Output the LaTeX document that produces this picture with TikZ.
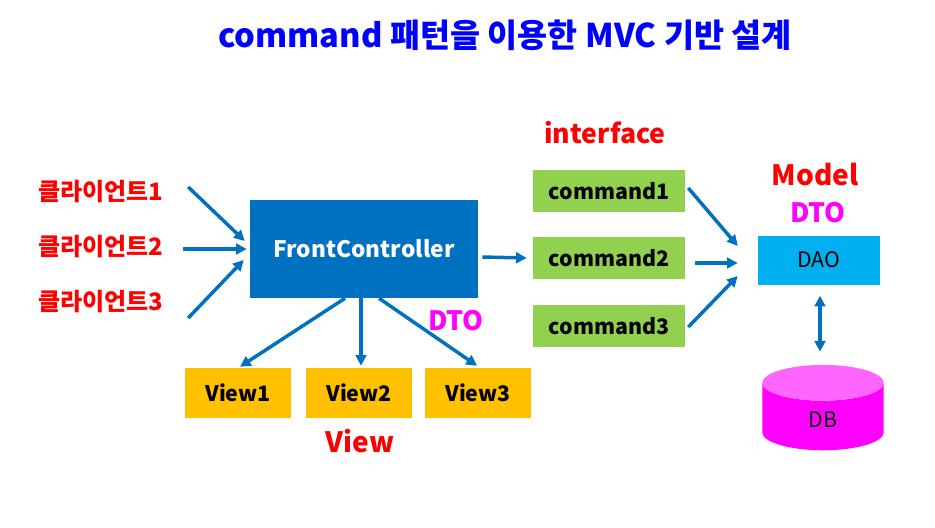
\documentclass[tikz,border=0pt]{standalone}
\usepackage{fontspec}
\setmainfont{Noto Sans CJK KR}
\usetikzlibrary{arrows.meta,shapes.geometric}
\definecolor{arrblue}{HTML}{0070C0}
\definecolor{cmdgreen}{HTML}{92D050}
\definecolor{vieworange}{HTML}{FFC000}
\definecolor{daocyan}{HTML}{00B0F0}
\definecolor{titleblue}{HTML}{0000FF}
\definecolor{lblred}{HTML}{FF0000}
\definecolor{dbmag}{HTML}{FF00FF}
\definecolor{dbtop}{HTML}{FF66FF}
\begin{document}
\begin{tikzpicture}[x=0.75pt,y=-0.75pt,font=\bfseries,
  arr/.style={draw=arrblue,line width=2.6pt,-{Triangle[length=8pt,width=8pt]}},
  client/.style={text=lblred,font=\bfseries\fontsize{18}{21}\selectfont},
  cmdbox/.style={fill=cmdgreen,minimum width=114pt,minimum height=31.5pt,
    font=\bfseries\fontsize{16}{19}\selectfont},
  viewbox/.style={fill=vieworange,minimum width=80pt,minimum height=37.5pt,
    font=\bfseries\fontsize{16}{19}\selectfont},
  tag/.style={font=\bfseries\fontsize{20}{24}\selectfont}]
\useasboundingbox (0,0) rectangle (935,528);

% title
\node[text=titleblue,font=\bfseries\fontsize{24.5}{29}\selectfont] (title) at (505,35) {command 패턴을 이용한 MVC 기반 설계};

% clients
\node[client] (c1) at (101,192) {클라이언트1};
\node[client] (c2) at (101,247) {클라이언트2};
\node[client] (c3) at (101,302) {클라이언트3};

% controller
\node[fill=arrblue,text=white,minimum width=171pt,minimum height=73.5pt,
  font=\bfseries\fontsize{17}{20}\selectfont] (fc) at (364,249) {FrontController};

% commands
\node[tag,text=lblred] (iface) at (605,133) {interface};
\node[cmdbox] (cmd1) at (609,191) {command1};
\node[cmdbox] (cmd2) at (609,258) {command2};
\node[cmdbox] (cmd3) at (609,326) {command3};

% model
\node[tag,text=lblred,font=\bfseries\fontsize{21}{25}\selectfont] (model) at (815,175) {Model};
\node[tag,text=dbmag] (dto2) at (818,213) {DTO};
\node[fill=daocyan,minimum width=91.5pt,minimum height=36.75pt,
  font=\fontsize{16}{19}\selectfont] (dao) at (819,260) {DAO};
\node[cylinder,shape border rotate=90,aspect=0.95,cylinder uses custom fill,
  cylinder body fill=dbmag,cylinder end fill=dbtop,minimum width=91pt,minimum height=64pt,
  font=\fontsize{16}{19}\selectfont] (db) at (823,420) {DB};

% views
\node[viewbox] (v1) at (238,393) {View1};
\node[viewbox] (v2) at (359,393) {View2};
\node[viewbox] (v3) at (478,393) {View3};
\node[tag,text=lblred,font=\bfseries\fontsize{21}{25}\selectfont] (view) at (360,441) {View};
\node[tag,text=dbmag] (dto1) at (456,321) {DTO};

% arrows
\draw[arr] ([shift={(20,-5)}]c1.east) -- ([shift={(-5,-8)}]fc.west);
\draw[arr] ([shift={(15,2)}]c2.east) -- ([shift={(-3,0)}]fc.west);
\draw[arr] ([shift={(20,16)}]c3.east) -- ([shift={(-6,11)}]fc.west);
\draw[arr] ([shift={(4,8)}]fc.east) -- ([shift={(-6,0)}]cmd2.west);
\draw[arr] ([shift={(3,-3)}]cmd1.east) -- ([shift={(-20,-14)}]dao.west);
\draw[arr] ([shift={(10,5)}]cmd2.east) -- ([shift={(-20,3)}]dao.west);
\draw[arr] ([shift={(3,1)}]cmd3.east) -- ([shift={(-20,16)}]dao.west);
\draw[arr] ([shift={(-19,0)}]fc.south) -- ([shift={(2,-1)}]v1.north);
\draw[arr] ([shift={(-3,0)}]fc.south) -- ([shift={(2,-2)}]v2.north);
\draw[arr] ([shift={(15,0)}]fc.south) -- ([shift={(-1,-2)}]v3.north);
\draw[arr,{Triangle[length=8pt,width=8pt]}-{Triangle[length=8pt,width=8pt]}] ([shift={(1,11)}]dao.south) -- ([shift={(-3,-13)}]db.top);
\end{tikzpicture}
\end{document}
